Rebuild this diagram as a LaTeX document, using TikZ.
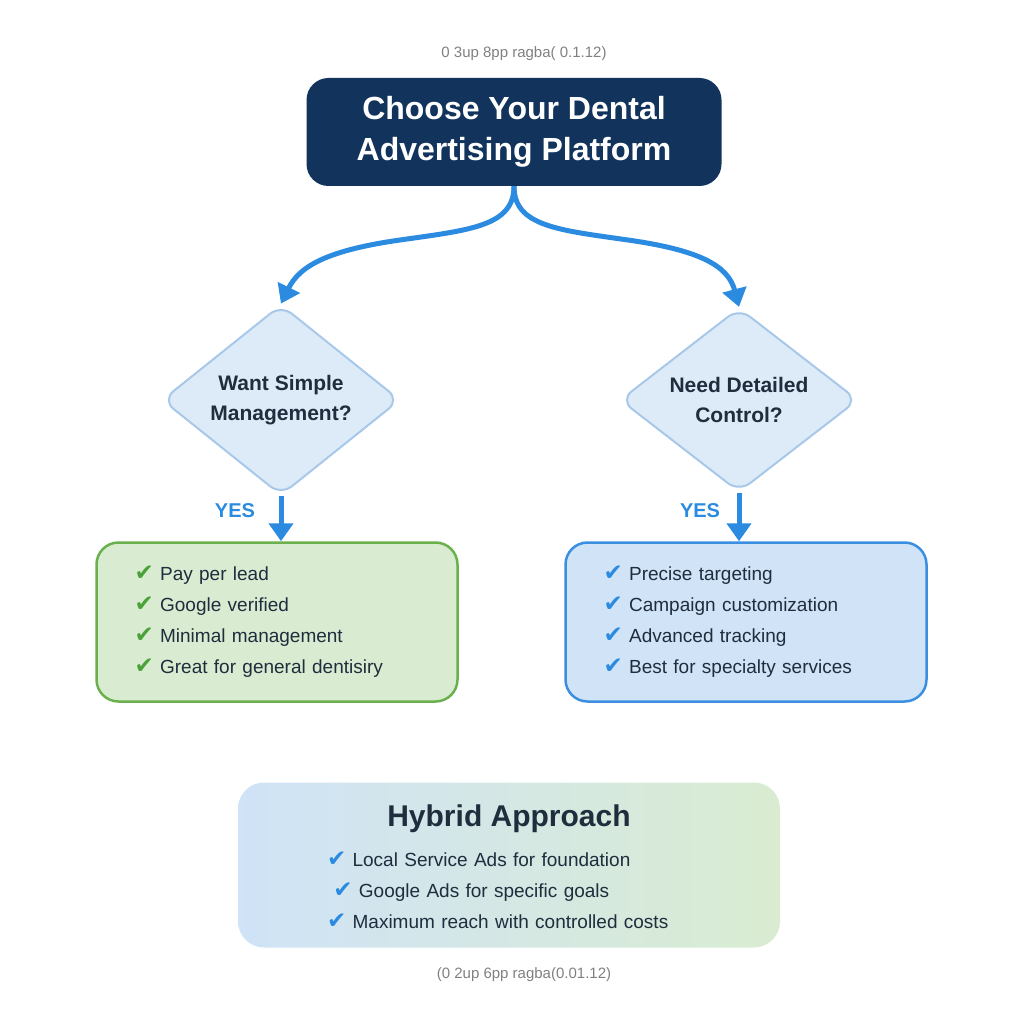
\documentclass[tikz,border=0pt]{standalone}
\usepackage{fontspec}
\setmainfont{Liberation Sans}
\newfontfamily\symfont{DejaVu Sans}
\usetikzlibrary{shapes.geometric,arrows.meta,positioning}
\definecolor{navy}{HTML}{12335B}
\definecolor{flowblue}{HTML}{2B8BE0}
\definecolor{qfill}{HTML}{DDEBF8}
\definecolor{qline}{HTML}{A8C8EA}
\definecolor{gfill}{HTML}{D9ECD1}
\definecolor{gline}{HTML}{6AB04C}
\definecolor{bfill}{HTML}{D0E3F7}
\definecolor{bline}{HTML}{3B8FE0}
\definecolor{checkgreen}{HTML}{4CA23A}
\definecolor{txt}{HTML}{1F2D3D}
\newcommand{\gck}{{\symfont\fontsize{23}{20}\selectfont\color{checkgreen}\char"2714}\ }
\newcommand{\bck}{{\symfont\fontsize{23}{20}\selectfont\color{flowblue}\char"2714}\ }
\tikzset{
  flow/.style={line width=5pt, flowblue, -{Triangle[length=18pt,width=24pt]}},
  question/.style={diamond, draw=qline, line width=2pt, fill=qfill, rounded corners=14pt,
    minimum width=238pt, minimum height=165pt, inner sep=0pt, align=center,
    font=\fontsize{21}{30}\selectfont\bfseries, text=txt},
  result/.style={draw=#1line, line width=2.5pt, fill=#1fill, rounded corners=22pt,
    minimum width=361pt, minimum height=159pt, inner xsep=38pt, text width=285pt, align=left,
    font=\fontsize{19}{31}\selectfont, text=txt},
  yes/.style={font=\fontsize{20}{24}\selectfont\bfseries, text=flowblue},
  note/.style={font=\fontsize{15}{18}\selectfont, text=gray}
}
\begin{document}
\begin{tikzpicture}[x=1pt,y=-1pt]
\useasboundingbox (0,0) rectangle (1024,1024);
\node[note] (topnote) at (524,54) {0 3up 8pp ragba( 0.1.12)};
\node[fill=navy, rounded corners=22pt, minimum width=415pt, minimum height=108pt,
  align=center, text=white, font=\fontsize{32}{41}\selectfont\bfseries] (title) at (514,132)
  {Choose Your Dental\\Advertising Platform};
\node[question] (qsimple) at (281,400) {Want Simple\\Management?};
\node[question] (qcontrol) at (739,400) {Need Detailed\\Control?};
\node[result=g] (simple) at (277,622)
  {\gck Pay per lead\\ \gck Google verified\\ \gck Minimal management\\ \gck Great for general dentisiry};
\node[result=b] (control) at (746,622)
  {\bck Precise targeting\\ \bck Campaign customization\\ \bck Advanced tracking\\ \bck Best for specialty services};
\node[rounded corners=26pt, left color=bfill, right color=gfill, minimum width=542pt,
  minimum height=165pt] (hybrid) at (509,865) {};
\node[font=\fontsize{30}{34}\selectfont\bfseries, text=txt] (htitle) at (509,819) {Hybrid Approach};
\node[align=left, font=\fontsize{19}{31}\selectfont, text=txt, text width=370pt] (hitems) at (512,890)
  {\bck Local Service Ads for foundation\\ \ \bck Google Ads for specific goals\\ \bck Maximum reach with controlled costs};
\node[note] (bottomnote) at (524,975) {(0 2up 6pp ragba(0.01.12)};
% branches
\draw[flow] (title.south) .. controls +(0,40) and (470,230) .. (400,240)
  .. controls (330,250) and (300,265) .. (qsimple.north);
\draw[flow] (title.south) .. controls +(0,40) and (558,230) .. (628,240)
  .. controls (698,250) and (728,265) .. (qcontrol.north);
\draw[flow] (qsimple.south) -- (simple.north -| qsimple.south);
\draw[flow] (qcontrol.south) -- (control.north -| qcontrol.south);
\node[yes] (yes1) at (235,511) {YES};
\node[yes] (yes2) at (700,511) {YES};
\end{tikzpicture}
\end{document}
